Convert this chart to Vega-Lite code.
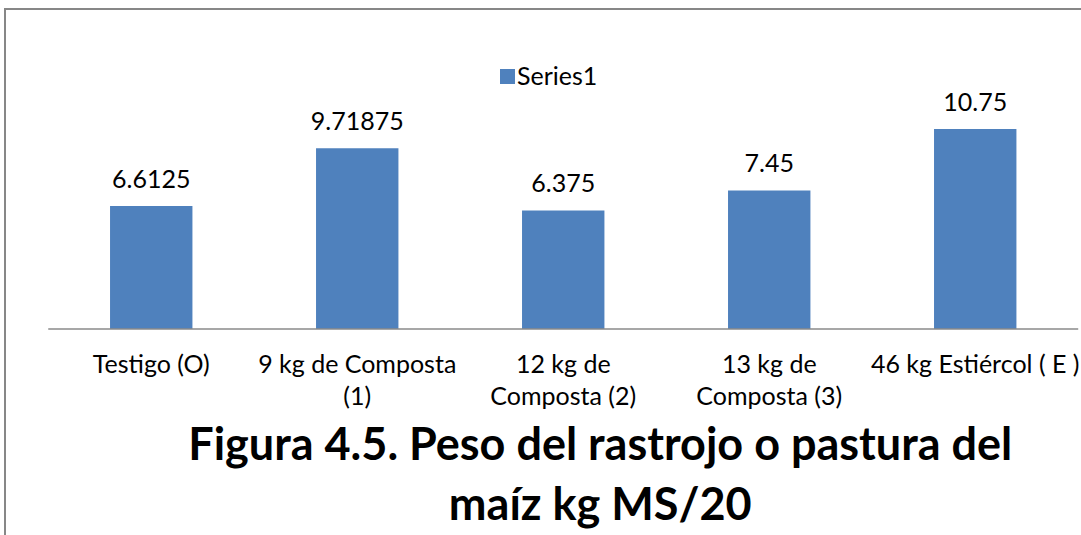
{
  "$schema": "https://vega.github.io/schema/vega-lite/v6.json",
  "width": 1080,
  "height": 536,
  "autosize": {"type": "none"},
  "padding": {"left": 5, "top": 9, "right": 0, "bottom": 0},
  "background": "white",
  "config": {"view": {"stroke": "#878787", "strokeWidth": 2}, "font": "Lato"},
  "data": {
    "values": [
      {"tratamiento": "Testigo (O)", "peso": 6.6125, "serie": "Series1"},
      {"tratamiento": "9 kg de Composta (1)", "peso": 9.71875, "serie": "Series1"},
      {"tratamiento": "12 kg de Composta (2)", "peso": 6.375, "serie": "Series1"},
      {"tratamiento": "13 kg de Composta (3)", "peso": 7.45, "serie": "Series1"},
      {"tratamiento": "46 kg Estiércol ( E )", "peso": 10.75, "serie": "Series1"}
    ]
  },
  "layer": [
    {
      "mark": {"type": "bar"},
      "encoding": {
        "x": {
          "field": "tratamiento", "type": "nominal", "sort": null,
          "scale": {"paddingInner": 0.6, "paddingOuter": 0.4214, "align": 0.605},
          "axis": {
            "title": null, "orient": "bottom", "offset": -216, "domain": false, "ticks": false,
            "labelAngle": 0, "labelFontSize": 25, "labelColor": "#000000", "labelLimit": 0,
            "labelBaseline": "alphabetic", "labelPadding": 43, "labelLineHeight": 32,
            "labelExpr": "datum.value == '9 kg de Composta (1)' ? ['9 kg de Composta', '(1)'] : datum.value == '12 kg de Composta (2)' ? ['12 kg de', 'Composta (2)'] : datum.value == '13 kg de Composta (3)' ? ['13 kg de', 'Composta (3)'] : datum.label"
          }
        },
        "y": {
          "field": "peso", "type": "quantitative",
          "scale": {"domain": [-11.613, 17.204], "nice": false, "zero": false},
          "axis": null
        },
        "color": {
          "field": "serie", "type": "nominal",
          "scale": {"range": ["#4F81BD"]},
          "legend": {
            "title": null, "orient": "none", "legendX": 490, "legendY": 55,
            "symbolType": "square", "symbolSize": 225, "symbolStrokeWidth": 0,
            "labelFontSize": 25, "labelColor": "#000000", "labelOffset": -3
          }
        }
      }
    },
    {
      "mark": {"type": "text", "baseline": "alphabetic", "dy": -18, "fontSize": 25, "color": "#000000"},
      "encoding": {
        "x": {"field": "tratamiento", "type": "nominal", "sort": null},
        "y": {"field": "peso", "type": "quantitative"},
        "text": {"field": "peso", "type": "nominal"}
      }
    },
    {
      "data": {"values": [{}]},
      "mark": {"type": "rule", "color": "#8a8a8a", "strokeWidth": 1.5},
      "encoding": {
        "x": {"datum": "Testigo (O)", "type": "nominal", "bandPosition": -0.75},
        "x2": {"datum": "46 kg Estiércol ( E )", "bandPosition": 1.75},
        "y": {"datum": 0, "type": "quantitative"}
      }
    },
    {
      "data": {"values": [{}]},
      "mark": {
        "type": "text", "text": ["Figura 4.5. Peso del rastrojo o pastura del", "maíz kg MS/20"],
        "fontSize": 45, "fontWeight": "bold", "lineHeight": 60, "baseline": "middle",
        "align": "center", "dx": 37, "color": "#000000"
      },
      "encoding": {
        "x": {"datum": "12 kg de Composta (2)", "type": "nominal"},
        "y": {"datum": -6.3, "type": "quantitative"}
      }
    }
  ]
}
